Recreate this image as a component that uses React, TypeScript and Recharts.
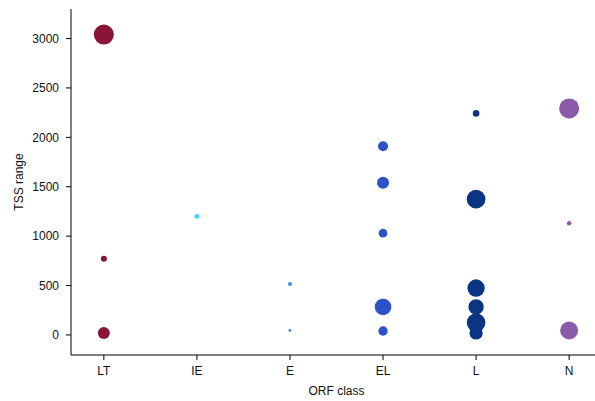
import React from 'react';
import { ScatterChart, Scatter, XAxis, YAxis, ZAxis, Label } from 'recharts';

const categories = ['LT', 'IE', 'E', 'EL', 'L', 'N'];
const yTicks = [0, 500, 1000, 1500, 2000, 2500, 3000];

// TSS range values per ORF class, with a marker-size weight (area units)
const ltValues = [3040, 770, 20];
const ltCounts = [100, 9, 36];
const ieValues = [1200];
const ieCounts = [6];
const eValues = [515, 45];
const eCounts = [4, 2];
const elValues = [1909, 1540, 1030, 283, 40];
const elCounts = [25, 36, 19, 69, 22];
const lValues = [2242, 1374, 475, 284, 125, 20];
const lCounts = [11, 87, 75, 59, 87, 44];
const nValues = [2293, 1131, 45];
const nCounts = [100, 5, 81];

const colors = ['#8a1538', '#40d4ff', '#3f87f0', '#2b52c8', '#0b3482', '#8b5aa8'];

const build = (idx: number, vals: number[], counts: number[]) =>
  vals.map((v, i) => ({ x: idx, y: v, n: counts[i] }));

const series = [
  build(0, ltValues, ltCounts),
  build(1, ieValues, ieCounts),
  build(2, eValues, eCounts),
  build(3, elValues, elCounts),
  build(4, lValues, lCounts),
  build(5, nValues, nCounts),
];

const font = '"Liberation Sans", Arial, sans-serif';
const tickStyle = { fontSize: 12, fill: '#111', fontFamily: font };
const xDomain = [-0.353, 5.353];

export default function App() {
  return (
    <div style={{ position: 'absolute', left: 0, top: 0, width: 595, height: 401, overflow: 'hidden', background: '#fff' }}>
      <ScatterChart width={620} height={401} margin={{ top: 9, right: 18, bottom: 6, left: 11 }}>
        <XAxis
          xAxisId="top"
          orientation="top"
          type="number"
          domain={xDomain}
          height={0}
          tick={false}
          tickLine={false}
          axisLine={{ stroke: '#000', strokeWidth: 1 }}
        />
        <XAxis
          dataKey="x"
          type="number"
          domain={xDomain}
          ticks={[0, 1, 2, 3, 4, 5]}
          tickFormatter={(v: number) => categories[v]}
          height={40}
          tickSize={5}
          tickMargin={6}
          tick={tickStyle}
          tickLine={{ stroke: '#000' }}
          axisLine={{ stroke: '#000', strokeWidth: 1 }}
        >
          <Label
            content={(props: any) => {
              const vb = props.viewBox || {};
              return (
                <text
                  x={vb.x + vb.width / 2}
                  y={vb.y + 36}
                  textAnchor="middle"
                  dominantBaseline="central"
                  style={{ fontSize: 12, fill: '#111', fontFamily: font }}
                >
                  ORF class
                </text>
              );
            }}
          />
        </XAxis>
        <YAxis
          dataKey="y"
          type="number"
          domain={[-203, 3299]}
          ticks={yTicks}
          width={60}
          tickSize={5}
          tickMargin={7}
          tick={tickStyle}
          tickLine={{ stroke: '#000' }}
          axisLine={{ stroke: '#000', strokeWidth: 1 }}
        >
          <Label
            content={(props: any) => {
              const vb = props.viewBox || {};
              const cx = vb.x + 8;
              const cy = vb.y + vb.height / 2;
              return (
                <text
                  x={cx}
                  y={cy}
                  transform={`rotate(-90, ${cx}, ${cy})`}
                  textAnchor="middle"
                  dominantBaseline="central"
                  style={{ fontSize: 12, fill: '#111', fontFamily: font }}
                >
                  TSS range
                </text>
              );
            }}
          />
        </YAxis>
        <ZAxis dataKey="n" type="number" domain={[0, 100]} range={[0, 100 * Math.PI]} />
        {series.map((d, i) => (
          <Scatter
            key={categories[i]}
            name={categories[i]}
            data={d}
            fill={colors[i]}
            shape="circle"
            isAnimationActive={false}
          />
        ))}
      </ScatterChart>
    </div>
  );
}
